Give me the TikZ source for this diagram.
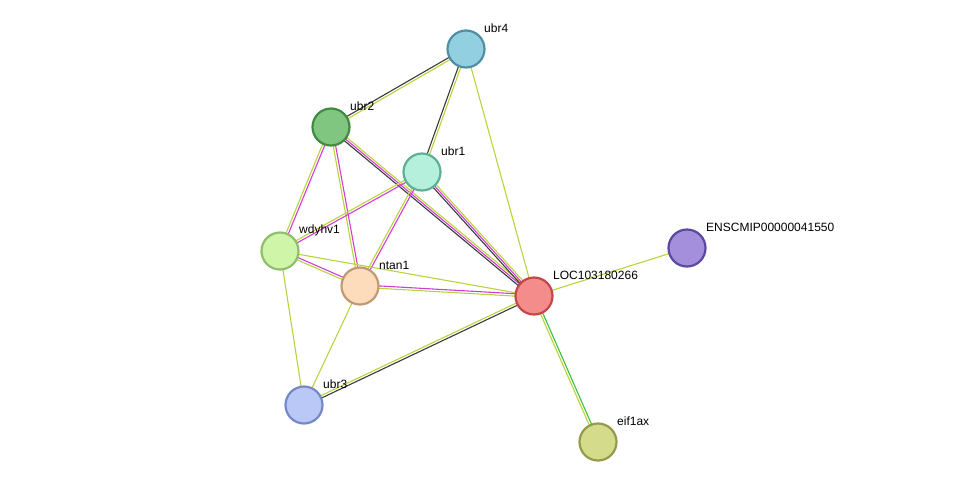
\documentclass[tikz,border=0pt]{standalone}
\usepackage{fontspec}
\setmainfont{Liberation Sans}
\usetikzlibrary{calc,backgrounds}
\definecolor{yg}{HTML}{B8D43A}
\definecolor{mg}{HTML}{D23CD2}
\definecolor{bk}{HTML}{3A3A3A}
\definecolor{gr}{HTML}{3CC03C}
\tikzset{
 prot/.style={circle,minimum size=37pt,inner sep=0pt,line width=2.2pt},
 lab/.style={anchor=west,font=\fontsize{12}{14}\selectfont,inner sep=0pt},
 ed/.style={line width=1.1pt}
}
\newcommand{\edgeoff}[4]{\draw[ed,#4] ($(#1)!#3!90:(#2)$) -- ($(#2)!#3!-90:(#1)$);}
\begin{document}
\begin{tikzpicture}[x=1pt,y=-1pt]
\useasboundingbox (0,0) rectangle (976,488);
\node[prot,fill={rgb,255:red,146;green,207;blue,224},draw={rgb,255:red,80;green,143;blue,163}] (ubr4) at (466,49) {};
\node[prot,fill={rgb,255:red,128;green,198;blue,128},draw={rgb,255:red,66;green,138;blue,66}] (ubr2) at (331,127) {};
\node[prot,fill={rgb,255:red,180;green,240;blue,220},draw={rgb,255:red,96;green,174;blue,150}] (ubr1) at (422,172) {};
\node[prot,fill={rgb,255:red,206;green,245;blue,168},draw={rgb,255:red,144;green,190;blue,108}] (wdy) at (280,251) {};
\node[prot,fill={rgb,255:red,252;green,220;blue,186},draw={rgb,255:red,192;green,154;blue,114}] (ntan1) at (360,286) {};
\node[prot,fill={rgb,255:red,245;green,140;blue,140},draw={rgb,255:red,192;green,72;blue,72}] (loc) at (534,296) {};
\node[prot,fill={rgb,255:red,164;green,143;blue,220},draw={rgb,255:red,93;green,72;blue,160}] (ens) at (687,248) {};
\node[prot,fill={rgb,255:red,186;green,200;blue,248},draw={rgb,255:red,117;green,136;blue,200}] (ubr3) at (304,405) {};
\node[prot,fill={rgb,255:red,212;green,220;blue,140},draw={rgb,255:red,148;green,154;blue,72}] (eif) at (598,442) {};
\begin{scope}[on background layer]
\edgeoff{ubr4}{ubr2}{1.2pt}{yg}\edgeoff{ubr4}{ubr2}{-1.2pt}{bk}
\edgeoff{ubr4}{ubr1}{1.2pt}{yg}\edgeoff{ubr4}{ubr1}{-1.2pt}{bk}
\edgeoff{ubr4}{loc}{0pt}{yg}
\edgeoff{ubr2}{wdy}{1.2pt}{mg}\edgeoff{ubr2}{wdy}{-1.2pt}{yg}
\edgeoff{ubr2}{ntan1}{1.2pt}{mg}\edgeoff{ubr2}{ntan1}{-1.2pt}{yg}
\edgeoff{ubr2}{loc}{2pt}{yg}\edgeoff{ubr2}{loc}{0pt}{mg}\edgeoff{ubr2}{loc}{-2pt}{bk}
\edgeoff{ubr1}{wdy}{1.2pt}{mg}\edgeoff{ubr1}{wdy}{-1.2pt}{yg}
\edgeoff{ubr1}{ntan1}{1.2pt}{mg}\edgeoff{ubr1}{ntan1}{-1.2pt}{yg}
\edgeoff{ubr1}{loc}{2pt}{yg}\edgeoff{ubr1}{loc}{0pt}{mg}\edgeoff{ubr1}{loc}{-2pt}{bk}
\edgeoff{wdy}{ntan1}{1.2pt}{mg}\edgeoff{wdy}{ntan1}{-1.2pt}{yg}
\edgeoff{wdy}{loc}{0pt}{yg}
\edgeoff{wdy}{ubr3}{0pt}{yg}
\edgeoff{ntan1}{loc}{1.2pt}{mg}\edgeoff{ntan1}{loc}{-1.2pt}{yg}
\edgeoff{ntan1}{ubr3}{0pt}{yg}
\edgeoff{ubr3}{loc}{1.2pt}{yg}\edgeoff{ubr3}{loc}{-1.2pt}{bk}
\edgeoff{loc}{ens}{0pt}{yg}
\edgeoff{loc}{eif}{1.2pt}{gr}\edgeoff{loc}{eif}{-1.2pt}{yg}
\end{scope}
\node[lab] (l1) at (484,28) {ubr4};
\node[lab] (l2) at (350,106) {ubr2};
\node[lab] (l3) at (441,151) {ubr1};
\node[lab] (l4) at (299,230) {wdyhv1};
\node[lab] (l5) at (379,265) {ntan1};
\node[lab] (l6) at (553,275) {LOC103180266};
\node[lab] (l7) at (706,227) {ENSCMIP00000041550};
\node[lab] (l8) at (323,384) {ubr3};
\node[lab] (l9) at (617,421) {eif1ax};
\end{tikzpicture}
\end{document}
